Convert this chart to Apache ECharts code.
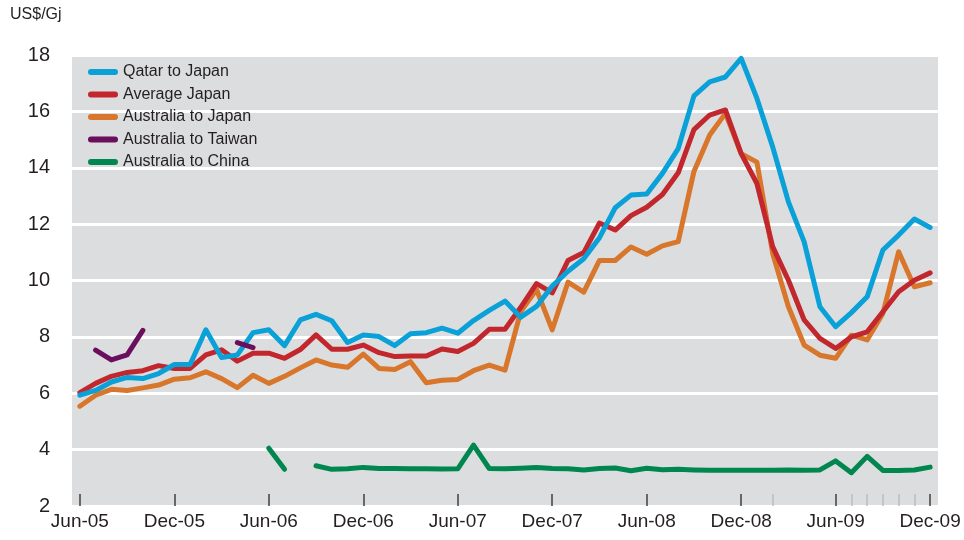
<!DOCTYPE html>
<html>
<head>
<meta charset="utf-8">
<title>LNG prices</title>
<script src="https://cdn.jsdelivr.net/npm/echarts@6/dist/echarts.min.js"></script>
<style>
  html, body { margin: 0; padding: 0; background: #fff; }
  #chart { width: 964px; height: 540px; }
</style>
</head>
<body>
<div id="chart"></div>
<script>
// Monthly categories, Jun-05 .. Dec-09
const months = [
  'Jun-05','Jul-05','Aug-05','Sep-05','Oct-05','Nov-05','Dec-05',
  'Jan-06','Feb-06','Mar-06','Apr-06','May-06','Jun-06','Jul-06','Aug-06','Sep-06','Oct-06','Nov-06','Dec-06',
  'Jan-07','Feb-07','Mar-07','Apr-07','May-07','Jun-07','Jul-07','Aug-07','Sep-07','Oct-07','Nov-07','Dec-07',
  'Jan-08','Feb-08','Mar-08','Apr-08','May-08','Jun-08','Jul-08','Aug-08','Sep-08','Oct-08','Nov-08','Dec-08',
  'Jan-09','Feb-09','Mar-09','Apr-09','May-09','Jun-09','Jul-09','Aug-09','Sep-09','Oct-09','Nov-09','Dec-09'
];

// LNG import prices, US$/Gj
const qatarToJapan = [
  5.93, 6.10, 6.40, 6.56, 6.52, 6.70, 7.02, 7.02, 8.25, 7.27,
  7.36, 8.15, 8.25, 7.69, 8.60, 8.80, 8.57, 7.80, 8.07, 8.01,
  7.69, 8.11, 8.15, 8.31, 8.13, 8.58, 8.94, 9.27, 8.70, 9.08,
  9.80, 10.33, 10.77, 11.52, 12.58, 13.03, 13.07, 13.80, 14.68, 16.55,
  17.05, 17.22, 17.88, 16.46, 14.74, 12.79, 11.37, 9.07, 8.36, 8.86,
  9.42, 11.08, 11.61, 12.18, 11.88
];
const averageJapan = [
  6.02, 6.35, 6.60, 6.74, 6.80, 6.98, 6.88, 6.88, 7.36, 7.54,
  7.14, 7.42, 7.42, 7.24, 7.55, 8.07, 7.56, 7.56, 7.71, 7.44,
  7.30, 7.32, 7.32, 7.57, 7.48, 7.77, 8.27, 8.27, 9.05, 9.89,
  9.56, 10.71, 10.99, 12.04, 11.79, 12.30, 12.60, 13.05, 13.82, 15.35,
  15.87, 16.05, 14.50, 13.44, 11.20, 10.01, 8.60, 7.95, 7.59, 8.00,
  8.18, 8.89, 9.60, 10.01, 10.27
];
const australiaToJapan = [
  5.54, 5.93, 6.14, 6.10, 6.19, 6.29, 6.50, 6.55, 6.76, 6.52,
  6.20, 6.64, 6.35, 6.60, 6.90, 7.18, 7.00, 6.92, 7.39, 6.88,
  6.84, 7.12, 6.37, 6.46, 6.49, 6.80, 7.00, 6.82, 8.90, 9.68,
  8.25, 9.94, 9.59, 10.71, 10.71, 11.19, 10.93, 11.23, 11.38, 13.87,
  15.16, 15.93, 14.50, 14.20, 10.96, 9.07, 7.71, 7.35, 7.24, 8.06,
  7.89, 8.83, 11.02, 9.78, 9.92
];
const australiaToTaiwan = [
  null, 7.53, 7.18, 7.36, 8.23, null, null, null, null, null,
  7.80, 7.62, null, null, null, null, null, null, null, null,
  null, null, null, null, null, null, null, null, null, null,
  null, null, null, null, null, null, null, null, null, null,
  null, null, null, null, null, null, null, null, null, null,
  null, null, null, null, null
];
const australiaToChina = [
  null, null, null, null, null, null, null, null, null, null,
  null, null, 4.05, 3.30, null, 3.43, 3.30, 3.32, 3.37, 3.33,
  3.33, 3.32, 3.32, 3.31, 3.32, 4.16, 3.33, 3.32, 3.34, 3.37,
  3.33, 3.32, 3.28, 3.33, 3.35, 3.25, 3.34, 3.29, 3.30, 3.28,
  3.27, 3.27, 3.27, 3.27, 3.27, 3.28, 3.27, 3.28, 3.60, 3.18,
  3.76, 3.26, 3.26, 3.28, 3.38
];

const yTicks = { min: 2, max: 18, step: 2 };
// months carrying a faint extra tick mark
const faintTickMonths = ['Feb-09', 'Jul-09', 'Aug-09', 'Sep-09', 'Oct-09', 'Nov-09'];

const FONT = "'Liberation Sans', Arial, sans-serif";
const TEXT = '#231f20';

const seriesDefs = [
  { name: 'Australia to Japan', data: australiaToJapan, color: '#d8762b', z: 2 },
  { name: 'Average Japan', data: averageJapan, color: '#c1272d', z: 3 },
  { name: 'Qatar to Japan', data: qatarToJapan, color: '#0aa0d8', z: 4 },
  { name: 'Australia to Taiwan', data: australiaToTaiwan, color: '#6a0f5e', z: 5 },
  { name: 'Australia to China', data: australiaToChina, color: '#00874f', z: 5 }
];

const chart = echarts.init(document.getElementById('chart'), null, { renderer: 'canvas' });

chart.setOption({
  animation: false,
  backgroundColor: '#ffffff',
  textStyle: { fontFamily: FONT, color: TEXT },
  grid: {
    left: 72, right: 26, top: 55, bottom: 34,
    show: true, backgroundColor: '#dcdddf', borderWidth: 0
  },
  graphic: [{
    type: 'text', left: 10, top: 7,
    style: { text: 'US$/Gj', font: "16px 'Liberation Sans', sans-serif", fill: TEXT }
  }],
  legend: {
    orient: 'vertical', left: 88, top: 63, padding: 0,
    itemWidth: 30, itemHeight: 6, itemGap: 4.5,
    icon: 'path://M3,0 L27,0 A3,3 0 0 1 27,6 L3,6 A3,3 0 0 1 3,0 Z',
    textStyle: { fontFamily: FONT, fontSize: 16, color: TEXT, lineHeight: 18 },
    data: ['Qatar to Japan', 'Average Japan', 'Australia to Japan', 'Australia to Taiwan', 'Australia to China']
  },
  xAxis: [{
    type: 'category', data: months, boundaryGap: true,
    axisLine: { show: false },
    axisTick: { show: true, interval: 5, alignWithLabel: true, inside: true, length: 12,
                lineStyle: { color: '#4a4a4a', width: 1.6 } },
    axisLabel: { interval: 5, margin: 6, fontSize: 19, color: TEXT, fontFamily: FONT },
    splitLine: { show: false }
  }, {
    type: 'category', data: months, boundaryGap: true, position: 'bottom',
    axisLine: { show: false },
    axisTick: { show: true, inside: true, length: 12, alignWithLabel: true,
                interval: (idx, val) => faintTickMonths.indexOf(val) >= 0,
                lineStyle: { color: '#bdbec0', width: 1.6 } },
    axisLabel: { show: false },
    splitLine: { show: false }
  }],
  yAxis: {
    type: 'value', min: yTicks.min, max: yTicks.max, interval: yTicks.step,
    axisLine: { show: false }, axisTick: { show: false },
    axisLabel: { margin: 22, fontSize: 20, color: TEXT, fontFamily: FONT },
    splitLine: { show: true, lineStyle: { color: '#ffffff', width: 3 } }
  },
  series: seriesDefs.map(s => ({
    name: s.name, type: 'line', data: s.data, z: s.z,
    xAxisIndex: 0, yAxisIndex: 0,
    showSymbol: false, symbol: 'none', connectNulls: false,
    color: s.color,
    lineStyle: { color: s.color, width: 5, cap: 'round', join: 'round' },
    emphasis: { disabled: true }
  }))
});
</script>
</body>
</html>
